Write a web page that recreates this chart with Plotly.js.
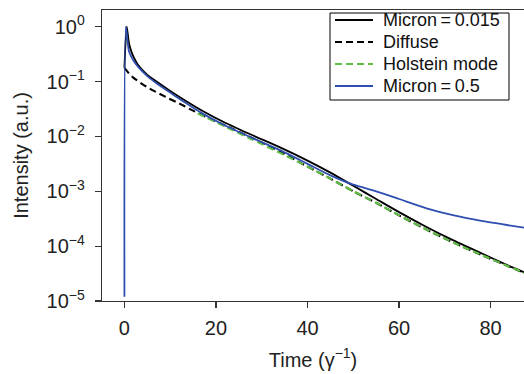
<!DOCTYPE html>
<html>
<head>
<meta charset="utf-8">
<script src="https://cdn.plot.ly/plotly-3.0.1.min.js"></script>
<style>html,body{margin:0;padding:0;background:#fff;}#chart{width:524px;height:374px;}</style>
</head>
<body>
<div id="chart"></div>
<script>
// Micron=0.015 (solid black)
const tMicron015 = [0, 0.5, 1, 1.5, 2, 3, 5, 7, 10, 13, 17, 22, 28, 34, 40, 45, 50, 55, 60, 66, 72, 78, 84, 88];
const iMicron015 = [0.178, 1.0, 0.501, 0.355, 0.282, 0.200, 0.132, 0.1, 0.0676, 0.0468, 0.0295, 0.0178, 0.0105, 0.00631, 0.00363, 0.00219, 0.00126, 0.000724, 0.000417, 0.000224, 0.000126, 0.0000741, 0.0000437, 0.0000316];

// Diffuse (dashed black)
const tDiffuse = [0, 1, 2, 4, 6, 9, 12, 15, 18, 22, 28, 34, 40, 45, 50, 55, 60, 66, 72, 78, 84, 88];
const iDiffuse = [0.178, 0.141, 0.117, 0.0891, 0.0708, 0.0525, 0.0398, 0.0295, 0.0224, 0.0158, 0.00933, 0.00525, 0.00282, 0.0017, 0.001, 0.000617, 0.000363, 0.0002, 0.000115, 0.0000692, 0.0000427, 0.0000309];

// Holstein mode (dashed green)
const tHolstein = [16, 22, 28, 34, 40, 45, 50, 55, 60, 66, 72, 78, 84, 88];
const iHolstein = [0.0263, 0.0151, 0.00871, 0.00501, 0.00282, 0.0017, 0.001, 0.000617, 0.000363, 0.0002, 0.000115, 0.0000692, 0.0000427, 0.0000309];

// Micron=0.5 (solid blue)
const tMicron05 = [0, 0.3, 1, 2, 3, 5, 7, 10, 13, 17, 22, 28, 34, 40, 45, 50, 55, 60, 66, 72, 78, 84, 88];
const iMicron05 = [0.000012, 1.0, 0.355, 0.240, 0.186, 0.126, 0.0933, 0.0631, 0.0427, 0.0263, 0.0158, 0.00933, 0.00562, 0.00316, 0.00195, 0.00132, 0.001, 0.000724, 0.00049, 0.000363, 0.000288, 0.00024, 0.000214];

const seriesNames = ['Micron\u2009=\u20090.015', 'Diffuse', 'Holstein mode', 'Micron\u2009=\u20090.5'];

const xTickVals = [0, 20, 40, 60, 80];
const yTickVals = [1, 0.1, 0.01, 0.001, 0.0001, 0.00001];
const yTickText = ['10<sup>0</sup>', '10<sup>\u22121</sup>', '10<sup>\u22122</sup>', '10<sup>\u22123</sup>', '10<sup>\u22124</sup>', '10<sup>\u22125</sup>'];

const FONT = 'Liberation Sans, Arial, Helvetica, sans-serif';
const W = 524, H = 374;
const M = {l: 102, r: 0, t: 10, b: 73};
const PW = W - M.l - M.r, PH = H - M.t - M.b;
const px = v => (v - M.l) / PW;          // pixel x -> paper x
const py = v => (H - M.b - v) / PH;      // pixel y -> paper y

const styles = [
  {color: '#000000', width: 1.8},
  {color: '#000000', width: 2.1, dash: '7px,4px'},
  {color: '#62bf45', width: 2.1, dash: '7px,4px'},
  {color: '#2f4fb0', width: 1.8}
];
const xs = [tMicron015, tDiffuse, tHolstein, tMicron05];
const ys = [iMicron015, iDiffuse, iHolstein, iMicron05];

const traces = xs.map((x, k) => ({
  x: x, y: ys[k], name: seriesNames[k], mode: 'lines', showlegend: false,
  line: Object.assign({shape: 'spline', smoothing: 0.6}, styles[k])
}));

// Legend drawn as box + sample lines + text
const legBox = {x0: 330, x1: 509, y0: 13, y1: 100};
const rowY = [20, 42, 64, 86];
const shapes = [{
  type: 'rect', xref: 'paper', yref: 'paper', layer: 'above',
  x0: px(legBox.x0), x1: px(legBox.x1), y0: py(legBox.y1), y1: py(legBox.y0),
  fillcolor: '#ffffff', line: {color: '#000000', width: 1}
}];
const annotations = [];
rowY.forEach((r, k) => {
  shapes.push({
    type: 'line', xref: 'paper', yref: 'paper', layer: 'above',
    x0: px(335), x1: px(373), y0: py(r), y1: py(r),
    line: Object.assign({}, styles[k])
  });
  annotations.push({
    xref: 'paper', yref: 'paper', x: px(381), y: py(r), xanchor: 'left', yanchor: 'middle',
    text: seriesNames[k], showarrow: false,
    font: {family: FONT, size: 18, color: '#111111'}
  });
});

const layout = {
  width: W, height: H,
  margin: {l: M.l, r: M.r, t: M.t, b: M.b, pad: 0},
  paper_bgcolor: '#ffffff', plot_bgcolor: '#ffffff',
  font: {family: FONT, size: 20, color: '#222222'},
  showlegend: false,
  shapes: shapes,
  annotations: annotations,
  xaxis: {
    range: [-4.9, 87.3], tickmode: 'array', tickvals: xTickVals,
    showgrid: false, zeroline: false,
    showline: true, linecolor: '#333333', linewidth: 1.2, mirror: true,
    ticks: 'outside', ticklen: 6, tickcolor: '#333333', tickwidth: 1.2,
    ticklabelstandoff: 3,
    tickfont: {family: FONT, size: 20, color: '#222222'},
    title: {text: 'Time (\u03b3<sup>\u22121</sup>)', font: {family: FONT, size: 20, color: '#222222'}, standoff: 14}
  },
  yaxis: {
    type: 'log', range: [-5, 0.305], tickmode: 'array', tickvals: yTickVals, ticktext: yTickText,
    showgrid: false, zeroline: false,
    showline: true, linecolor: '#333333', linewidth: 1.2,
    ticks: 'outside', ticklen: 6, tickcolor: '#333333', tickwidth: 1.2,
    ticklabelstandoff: 6,
    tickfont: {family: FONT, size: 20, color: '#222222'},
    title: {text: 'Intensity (a.u.)', font: {family: FONT, size: 20, color: '#222222'}, standoff: 12}
  }
};

Plotly.newPlot('chart', traces, layout, {staticPlot: true, displayModeBar: false});
</script>
</body>
</html>
